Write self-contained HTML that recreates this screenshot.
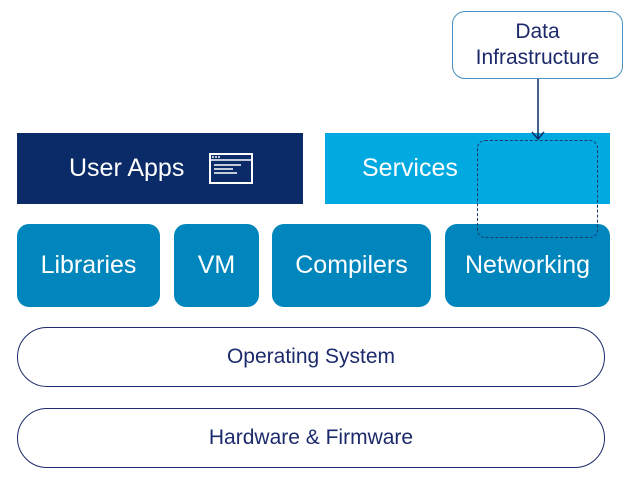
<!DOCTYPE html>
<html><head><style>
body{margin:0;width:640px;height:480px;background:#fff;position:relative;overflow:hidden;font-family:"Liberation Sans",sans-serif}
.b{position:absolute;display:flex;align-items:center;justify-content:center;box-sizing:border-box}
.w{color:#fff;font-size:25px}
.m{background:#0086bd;border-radius:12px}
.o{border:1px solid #1c2a6b;border-radius:30px;color:#1c2a6b;font-size:21px}
</style></head><body>
<div class="b w" style="left:17px;top:133px;width:286px;height:71px;background:#0a2b68;justify-content:flex-start;padding-left:52px">User Apps</div>
<svg style="position:absolute;left:209px;top:153px" width="44" height="31" viewBox="0 0 44 31"><rect x="1" y="1" width="42" height="29" fill="none" stroke="#fff" stroke-width="2"/><line x1="1" y1="7" x2="43" y2="7" stroke="#fff" stroke-width="1.5"/><circle cx="4" cy="4" r="1" fill="#fff"/><circle cx="7" cy="4" r="1" fill="#fff"/><circle cx="10" cy="4" r="1" fill="#fff"/><line x1="5" y1="12" x2="32" y2="12" stroke="#fff" stroke-width="1.5"/><line x1="5" y1="16" x2="24" y2="16" stroke="#fff" stroke-width="1.5"/><line x1="5" y1="20" x2="28" y2="20" stroke="#fff" stroke-width="1.5"/></svg>
<div class="b w" style="left:325px;top:133px;width:285px;height:71px;background:#00a9df;justify-content:flex-start;padding-left:37px">Services</div>
<div class="b w m" style="left:17px;top:224px;width:143px;height:83px">Libraries</div>
<div class="b w m" style="left:174px;top:224px;width:85px;height:83px">VM</div>
<div class="b w m" style="left:272px;top:224px;width:159px;height:83px">Compilers</div>
<div class="b w m" style="left:445px;top:224px;width:165px;height:83px">Networking</div>
<div class="b" style="left:477px;top:140px;width:121px;height:98px;border:1px dashed #1c3a6b;border-radius:8px"></div>
<div class="b o" style="left:17px;top:327px;width:588px;height:60px">Operating System</div>
<div class="b o" style="left:17px;top:408px;width:588px;height:60px">Hardware &amp; Firmware</div>
<div class="b" style="left:452px;top:11px;width:171px;height:68px;border:1px solid #4a90c0;border-radius:13px;color:#1c2a6b;font-size:21px;text-align:center;line-height:26px">Data<br>Infrastructure</div>
<svg style="position:absolute;left:0;top:0" width="640" height="480"><line x1="538" y1="79" x2="538" y2="139" stroke="#0a2b68" stroke-width="1.5"/><polyline points="532,132 538,139 544,132" fill="none" stroke="#0a2b68" stroke-width="1.5"/></svg>
</body></html>
